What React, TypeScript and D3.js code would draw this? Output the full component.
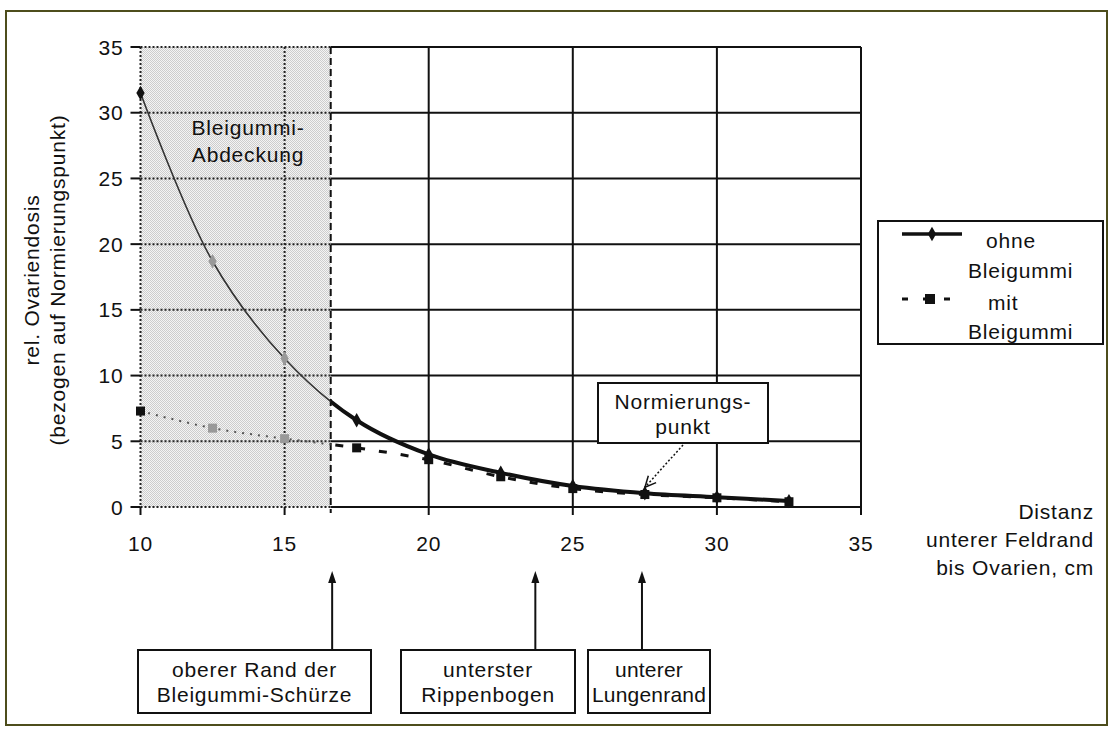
import { useEffect, useRef } from "react";
import * as d3 from "d3";

// distance lower field edge -> ovaries (cm)
const distances = [10, 12.5, 15, 17.5, 20, 22.5, 25, 27.5, 30, 32.5];
const ohneBleigummi = [31.5, 18.7, 11.3, 6.6, 4.0, 2.6, 1.6, 1.05, 0.75, 0.45];
const mitBleigummi = [7.3, 6.0, 5.2, 4.5, 3.6, 2.3, 1.4, 0.95, 0.7, 0.4];

const xTickValues = [10, 15, 20, 25, 30, 35];
const yTickValues = [0, 5, 10, 15, 20, 25, 30, 35];

const coverEdge = 16.6; // end of the lead rubber cover
const normPoint = { x: 27.4, y: 1.05 };
const landmarkX = [16.65, 23.7, 27.4];
const landmarkLabels = [
  ["oberer Rand der", "Bleigummi-Schürze"],
  ["unterster", "Rippenbogen"],
  ["unterer", "Lungenrand"],
];

export default function App() {
  const svgRef = useRef<SVGSVGElement>(null);

  useEffect(() => {
    if (!svgRef.current) return;
    document.body.style.margin = "0";

    const W = 1113;
    const H = 731;
    const svg = d3.select(svgRef.current);
    svg.selectAll("*").remove();
    svg
      .attr("width", W)
      .attr("height", H)
      .style("font-family", "'Liberation Sans', Arial, sans-serif")
      .style("font-size", "21px")
      .style("letter-spacing", "0.8px");

    const ink = "#111";

    const x = d3.scaleLinear().domain([10, 35]).range([140.5, 861]);
    const y = d3.scaleLinear().domain([0, 35]).range([507, 47]);

    const defs = svg.append("defs");
    const pat = defs
      .append("pattern")
      .attr("id", "dots")
      .attr("width", 2)
      .attr("height", 2)
      .attr("patternUnits", "userSpaceOnUse");
    pat.append("rect").attr("width", 2).attr("height", 2).attr("fill", "#f4f4f4");
    pat.append("rect").attr("x", 0).attr("y", 0).attr("width", 1).attr("height", 1).attr("fill", "#cdcdcd");
    pat.append("rect").attr("x", 1).attr("y", 1).attr("width", 1).attr("height", 1).attr("fill", "#cdcdcd");

    defs
      .append("clipPath")
      .attr("id", "inside")
      .append("rect")
      .attr("x", x(10) - 10)
      .attr("y", 0)
      .attr("width", x(coverEdge) - x(10) + 10)
      .attr("height", H);
    defs
      .append("clipPath")
      .attr("id", "outside")
      .append("rect")
      .attr("x", x(coverEdge))
      .attr("y", 0)
      .attr("width", W)
      .attr("height", H);

    // outer frame
    svg
      .append("rect")
      .attr("x", 6)
      .attr("y", 11)
      .attr("width", 1101)
      .attr("height", 714)
      .attr("fill", "#fff")
      .attr("stroke", "#4d4d1c")
      .attr("stroke-width", 2);

    // shaded cover region
    svg
      .append("rect")
      .attr("x", x(10))
      .attr("y", y(35))
      .attr("width", x(coverEdge) - x(10))
      .attr("height", y(0) - y(35))
      .attr("fill", "url(#dots)");

    // grid: dotted inside the cover, solid outside
    const grid = svg.append("g");
    yTickValues.forEach((v) => {
      grid
        .append("line")
        .attr("x1", x(10))
        .attr("x2", x(coverEdge))
        .attr("y1", y(v))
        .attr("y2", y(v))
        .attr("stroke", "#222")
        .attr("stroke-width", 2)
        .attr("stroke-dasharray", "2,2");
      grid
        .append("line")
        .attr("x1", x(coverEdge))
        .attr("x2", x(35))
        .attr("y1", y(v))
        .attr("y2", y(v))
        .attr("stroke", ink)
        .attr("stroke-width", 2);
    });
    xTickValues.forEach((v) => {
      const inside = v < coverEdge;
      grid
        .append("line")
        .attr("x1", x(v))
        .attr("x2", x(v))
        .attr("y1", y(35))
        .attr("y2", y(0))
        .attr("stroke", inside ? "#222" : ink)
        .attr("stroke-width", 2)
        .attr("stroke-dasharray", inside ? "2,2" : null);
    });

    // edge of the cover
    svg
      .append("line")
      .attr("x1", x(coverEdge))
      .attr("x2", x(coverEdge))
      .attr("y1", y(35))
      .attr("y2", y(0) + 6)
      .attr("stroke", ink)
      .attr("stroke-width", 2)
      .attr("stroke-dasharray", "7,4");

    // ticks
    yTickValues.forEach((v) => {
      svg
        .append("line")
        .attr("x1", x(10) - 10)
        .attr("x2", x(10))
        .attr("y1", y(v))
        .attr("y2", y(v))
        .attr("stroke", ink)
        .attr("stroke-width", 2);
      svg
        .append("text")
        .attr("x", x(10) - 17)
        .attr("y", y(v))
        .attr("text-anchor", "end")
        .attr("dominant-baseline", "central")
        .attr("fill", ink)
        .text(v);
    });
    xTickValues.forEach((v) => {
      svg
        .append("line")
        .attr("x1", x(v))
        .attr("x2", x(v))
        .attr("y1", y(0))
        .attr("y2", y(0) + 8)
        .attr("stroke", ink)
        .attr("stroke-width", 2);
      svg
        .append("text")
        .attr("x", x(v))
        .attr("y", 543)
        .attr("text-anchor", "middle")
        .attr("dominant-baseline", "central")
        .attr("fill", ink)
        .text(v);
    });

    // series
    const ohnePts = distances.map((d, i) => [d, ohneBleigummi[i]] as [number, number]);
    const mitPts = distances.map((d, i) => [d, mitBleigummi[i]] as [number, number]);
    const line = d3
      .line<[number, number]>()
      .x((d) => x(d[0]))
      .y((d) => y(d[1]))
      .curve(d3.curveCatmullRom.alpha(0.5));

    // mit Bleigummi
    svg
      .append("path")
      .datum(mitPts)
      .attr("clip-path", "url(#inside)")
      .attr("fill", "none")
      .attr("stroke", "#555")
      .attr("stroke-width", 2)
      .attr("stroke-dasharray", "2,6")
      .attr("d", line);
    svg
      .append("path")
      .datum(mitPts)
      .attr("clip-path", "url(#outside)")
      .attr("fill", "none")
      .attr("stroke", ink)
      .attr("stroke-width", 3)
      .attr("stroke-dasharray", "8,14")
      .attr("d", line);

    // ohne Bleigummi
    svg
      .append("path")
      .datum(ohnePts)
      .attr("clip-path", "url(#inside)")
      .attr("fill", "none")
      .attr("stroke", "#333")
      .attr("stroke-width", 1.6)
      .attr("d", line);
    svg
      .append("path")
      .datum(ohnePts)
      .attr("clip-path", "url(#outside)")
      .attr("fill", "none")
      .attr("stroke", ink)
      .attr("stroke-width", 4)
      .attr("d", line);

    const muted = (d: number) => d > 10 && d < coverEdge;
    const diamond = d3.symbol().type(d3.symbolDiamond).size(60);
    svg
      .append("g")
      .selectAll("path")
      .data(ohnePts)
      .join("path")
      .attr("transform", (d) => `translate(${x(d[0])},${y(d[1])})`)
      .attr("d", diamond)
      .attr("fill", (d) => (muted(d[0]) ? "#999" : ink));
    svg
      .append("g")
      .selectAll("rect")
      .data(mitPts)
      .join("rect")
      .attr("x", (d) => x(d[0]) - 4.5)
      .attr("y", (d) => y(d[1]) - 4.5)
      .attr("width", 9)
      .attr("height", 9)
      .attr("fill", (d) => (muted(d[0]) ? "#999" : ink));

    // text in the cover region
    const cover = svg
      .append("text")
      .attr("text-anchor", "middle")
      .attr("fill", ink);
    cover.append("tspan").attr("x", 248).attr("y", 135).text("Bleigummi-");
    cover.append("tspan").attr("x", 248).attr("y", 162).text("Abdeckung");

    // axis titles
    const yTitle = svg
      .append("text")
      .attr("transform", "translate(0,280) rotate(-90)")
      .attr("text-anchor", "middle")
      .attr("fill", ink);
    yTitle.append("tspan").attr("x", 0).attr("y", 39).text("rel. Ovariendosis");
    yTitle.append("tspan").attr("x", 0).attr("y", 65).text("(bezogen auf Normierungspunkt)");

    const xTitle = svg
      .append("text")
      .attr("text-anchor", "end")
      .attr("fill", ink);
    ["Distanz", "unterer Feldrand", "bis Ovarien, cm"].forEach((t, i) => {
      xTitle
        .append("tspan")
        .attr("x", 1094)
        .attr("y", 519 + i * 28)
        .text(t);
    });

    // legend
    const lg = svg.append("g");
    lg.append("rect")
      .attr("x", 878)
      .attr("y", 221)
      .attr("width", 225)
      .attr("height", 123)
      .attr("fill", "#fff")
      .attr("stroke", ink)
      .attr("stroke-width", 2);
    lg.append("line")
      .attr("x1", 902)
      .attr("x2", 962)
      .attr("y1", 234)
      .attr("y2", 234)
      .attr("stroke", ink)
      .attr("stroke-width", 3.5);
    lg.append("path")
      .attr("transform", "translate(932,234)")
      .attr("d", diamond)
      .attr("fill", ink);
    lg.append("line")
      .attr("x1", 902)
      .attr("x2", 952)
      .attr("y1", 299)
      .attr("y2", 299)
      .attr("stroke", ink)
      .attr("stroke-width", 3)
      .attr("stroke-dasharray", "6,15");
    lg.append("rect")
      .attr("x", 925)
      .attr("y", 294)
      .attr("width", 10)
      .attr("height", 10)
      .attr("fill", ink);
    [
      ["ohne", 986, 248],
      ["Bleigummi", 968, 278],
      ["mit", 988, 310],
      ["Bleigummi", 968, 339],
    ].forEach(([t, tx, ty]) => {
      lg.append("text")
        .attr("x", tx as number)
        .attr("y", ty as number)
        .attr("fill", ink)
        .text(t as string);
    });

    // Normierungspunkt callout
    const np = svg.append("g");
    np.append("rect")
      .attr("x", 598)
      .attr("y", 383)
      .attr("width", 170)
      .attr("height", 60)
      .attr("fill", "#fff")
      .attr("stroke", ink)
      .attr("stroke-width", 2);
    const npText = np.append("text").attr("text-anchor", "middle").attr("fill", ink);
    npText.append("tspan").attr("x", 683).attr("y", 409).text("Normierungs-");
    npText.append("tspan").attr("x", 683).attr("y", 434).text("punkt");
    const tipX = x(normPoint.x) + 3;
    const tipY = y(normPoint.y) - 6;
    np.append("line")
      .attr("x1", 683)
      .attr("y1", 445)
      .attr("x2", tipX)
      .attr("y2", tipY)
      .attr("stroke", ink)
      .attr("stroke-width", 1.5)
      .attr("stroke-dasharray", "2,2");
    const ang = Math.atan2(tipY - 445, tipX - 683);
    [0.45, -0.45].forEach((da) => {
      np.append("line")
        .attr("x1", tipX)
        .attr("y1", tipY)
        .attr("x2", tipX - 12 * Math.cos(ang + da))
        .attr("y2", tipY - 12 * Math.sin(ang + da))
        .attr("stroke", ink)
        .attr("stroke-width", 1.5);
    });

    // landmark callouts below the axis
    const boxes = [
      [138, 371],
      [401, 575],
      [588, 710],
    ];
    landmarkX.forEach((lx, i) => {
      const g = svg.append("g");
      const ax = x(lx);
      g.append("line")
        .attr("x1", ax)
        .attr("x2", ax)
        .attr("y1", 650)
        .attr("y2", 578)
        .attr("stroke", ink)
        .attr("stroke-width", 2);
      g.append("path")
        .attr("d", `M${ax},571 L${ax - 4},583 L${ax + 4},583 Z`)
        .attr("fill", ink);
      const [bx0, bx1] = boxes[i];
      g.append("rect")
        .attr("x", bx0)
        .attr("y", 650)
        .attr("width", bx1 - bx0)
        .attr("height", 63)
        .attr("fill", "#fff")
        .attr("stroke", ink)
        .attr("stroke-width", 2);
      const t = g.append("text").attr("text-anchor", "middle").attr("fill", ink);
      landmarkLabels[i].forEach((s, j) => {
        t.append("tspan")
          .attr("x", (bx0 + bx1) / 2)
          .attr("y", 677 + j * 25)
          .attr("letter-spacing", i === 2 ? "0.2px" : null)
          .text(s);
      });
    });
  }, []);

  return <svg ref={svgRef} style={{ display: "block" }}></svg>;
}
